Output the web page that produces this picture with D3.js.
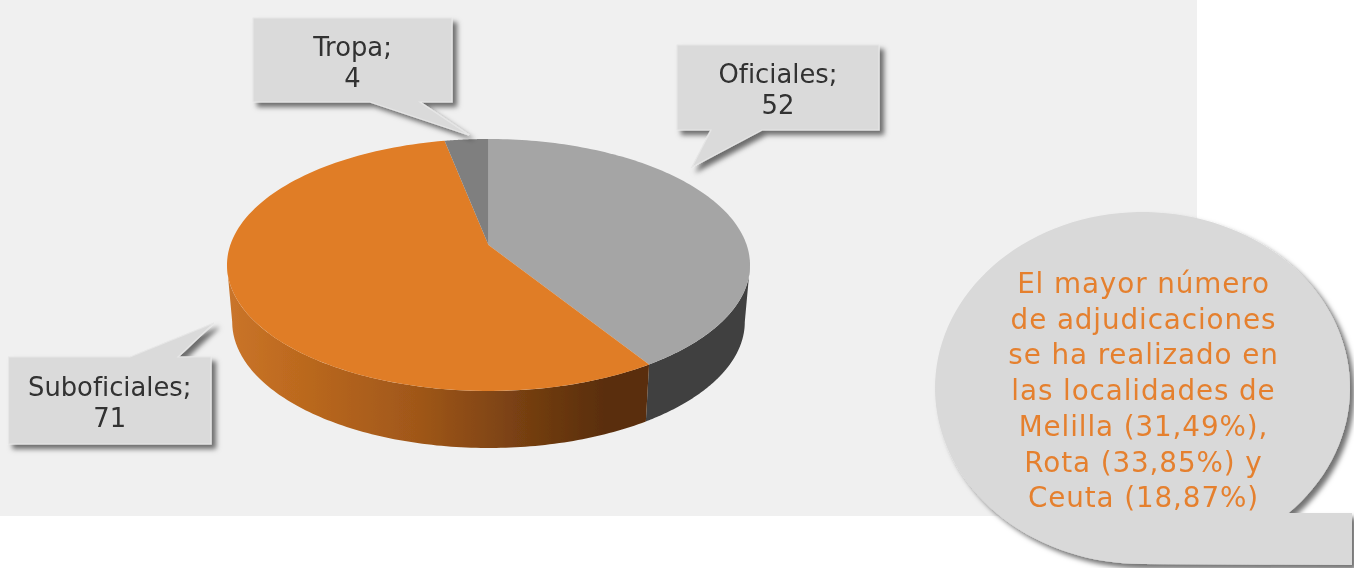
<!DOCTYPE html>
<html lang="es">
<head>
<meta charset="utf-8">
<script src="https://cdn.jsdelivr.net/npm/d3@7/dist/d3.min.js"></script>
<style>
html,body{margin:0;padding:0;background:#fff;overflow:hidden}
svg{display:block}
text{font-family:"DejaVu Sans",Verdana,sans-serif}
</style>
</head>
<body>
<svg id="chart" width="1354" height="568"></svg>
<script>
const categories = ["Oficiales", "Suboficiales", "Tropa"];
const values = [52, 71, 4];
const topColors = ["#a5a5a5", "#e07d26", "#7f7f7f"];
const noteLines = ["El mayor número", "de adjudicaciones", "se ha realizado en", "las localidades de", "Melilla (31,49%),", "Rota (33,85%) y", "Ceuta (18,87%)"];

const W = 1354, H = 568;
const svg = d3.select("#chart").attr("viewBox", [0, 0, W, H]);
const defs = svg.append("defs");

const shadow = defs.append("filter").attr("id", "shadow")
  .attr("x", "-10%").attr("y", "-10%").attr("width", "125%").attr("height", "130%");
shadow.append("feDropShadow").attr("dx", 4.5).attr("dy", 4.5).attr("stdDeviation", 2.6)
  .attr("flood-color", "#000").attr("flood-opacity", 0.55);
defs.append("filter").attr("id", "soft").append("feGaussianBlur").attr("stdDeviation", 0.5);
defs.append("filter").attr("id", "edge").append("feGaussianBlur").attr("stdDeviation", 0.5);

const wallGrad = defs.append("linearGradient").attr("id", "wallOrange")
  .attr("gradientUnits", "userSpaceOnUse").attr("x1", 230).attr("x2", 646).attr("y1", 0).attr("y2", 0);
[[0, "#c9742a"], [0.12, "#c06c20"], [0.45, "#a05719"], [0.75, "#6f3b10"], [0.9, "#5a2e0b"], [1, "#5a2e0b"]]
  .forEach(([o, c]) => wallGrad.append("stop").attr("offset", o).attr("stop-color", c));

svg.append("rect").attr("x", 0).attr("y", 0).attr("width", 1197).attr("height", 516).attr("fill", "#f0f0f0");

// Perspective projection of the pie disc
const cx = 488.5, apexY = 245, persp = 0.1587, slope = -83.94, radius = 258.2;
const depth = 57, bottomScale = 0.98;
const project = a => {
  const t = Math.cos(a), s = Math.sin(a), d = 1 + persp * t;
  return [cx + radius * s / d, (apexY + slope * t) / d];
};
const projectBottom = a => {
  const [x, y] = project(a);
  return [cx + (x - cx) * bottomScale, y + depth];
};
const samples = (a0, a1) => d3.range(0, 121).map(i => a0 + (a1 - a0) * i / 120);
const line = d3.line();

const arcs = d3.pie().sort(null).value(d => d)(values);
const widest = Math.acos(-persp);

// Side walls
const wallColors = ["#404040", "url(#wallOrange)", "#404040"];
const pieGroup = svg.append("g").attr("filter", "url(#edge)");
arcs.forEach((a, i) => {
  const a0 = Math.max(a.startAngle, widest), a1 = Math.min(a.endAngle, 2 * Math.PI - widest);
  if (a1 <= a0) return;
  const pts = samples(a0, a1);
  pieGroup.append("path")
    .attr("d", line([...pts.map(project), ...pts.slice().reverse().map(projectBottom)]) + "Z")
    .attr("fill", wallColors[i]);
});

// Top faces
arcs.forEach((a, i) => {
  pieGroup.append("path")
    .attr("d", line([[cx, apexY], ...samples(a.startAngle, a.endAngle).map(project)]) + "Z")
    .attr("fill", topColors[i]);
});

// Data callouts
const callouts = [
  {box: [677, 45, 879, 130], tail: [[762, 130], [692, 167], [711, 130]]},
  {box: [8.5, 357, 211, 444], tail: [[130, 357], [214, 323], [178, 357]], top: true},
  {box: [253, 18, 452, 102], tail: [[420, 102], [469, 135], [370, 102]]}
];
callouts.forEach((c, i) => {
  const [x0, y0, x1, y1] = c.box;
  const t = c.tail;
  const outline = c.top
    ? [[x0, y0], t[0], t[1], t[2], [x1, y0], [x1, y1], [x0, y1]]
    : [[x0, y0], [x1, y0], [x1, y1], t[0], t[1], t[2], [x0, y1]];
  svg.append("path").attr("d", line(outline) + "Z")
    .attr("fill", "#dadada").attr("stroke", "#e6e6e6").attr("stroke-width", 1.2)
    .attr("filter", "url(#shadow)");
  const mid = (x0 + x1) / 2, yc = (y0 + y1) / 2;
  const g = svg.append("g").attr("filter", "url(#soft)")
    .attr("fill", "#303030").attr("font-size", 25.8).attr("text-anchor", "middle");
  g.append("text").attr("x", mid).attr("y", yc - 4.5).text(categories[i] + ";");
  g.append("text").attr("x", mid).attr("y", yc + 26.5).text(values[i]);
});

// Note bubble
const bx = 1142.5, by = 388, brx = 207.5, bry = 176;
const ell = a => [bx + brx * Math.cos(a), by + bry * Math.sin(a)];
const yTail = 513;
const aStart = Math.asin((yTail - by) / bry);
const aEnd = Math.PI / 2;
const bubble = [
  [1352, yTail], [1352, 565],
  ...samples(aEnd, 2 * Math.PI + aStart).map(ell)
];
svg.append("path").attr("d", line(bubble) + "Z").attr("fill", "#d9d9d9").attr("filter", "url(#shadow)");

const note = svg.append("g").attr("filter", "url(#soft)")
  .attr("fill", "#e5802f").attr("font-size", 27.8).attr("letter-spacing", 0.9).attr("text-anchor", "middle");
noteLines.forEach((l, i) => {
  note.append("text").attr("x", 1143.5).attr("y", 293 + i * 35.7).text(l);
});
</script>
</body>
</html>
